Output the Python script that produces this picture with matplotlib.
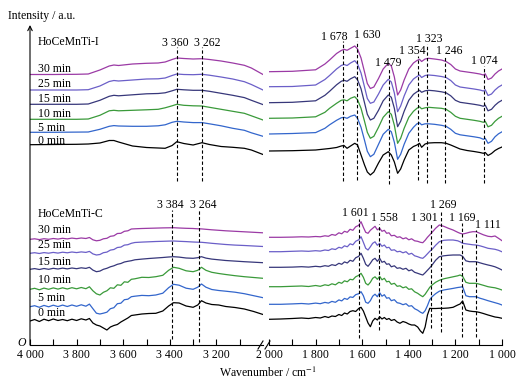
import numpy as np
import matplotlib
matplotlib.use('Agg')
import matplotlib.pyplot as plt
from matplotlib.lines import Line2D

plt.rcParams['font.family'] = ['Liberation Serif', 'DejaVu Serif']
plt.rcParams['mathtext.fontset'] = 'stix'
plt.rcParams['font.size'] = 8.5

# series order: 0, 5, 10, 15, 25, 30 min
times = ['0 min', '5 min', '10 min', '15 min', '25 min', '30 min']
colors = ['#000000', '#3366cc', '#3a9a3a', '#37377a', '#6b5fc8', '#9b3aa5']

# ---- HoCeMnTi-I ----
wn_i_left = [4000, 3900, 3800, 3750, 3700, 3660, 3640, 3620, 3560, 3500, 3450, 3420,
             3390, 3370, 3340, 3300, 3262, 3230, 3180, 3130, 3080, 3050, 3000]
i_left = [
    [0, 0.2, 0.4, 0.7, 1.7, 4.2, 4.2, 2.7, -1.3, -2.8, -3.3, -3.6, -0.8, 3, 1.2, -0.3, 2, 0.2, -1.8, -2.6, -3.6, -5.3, -9.8],
    [0, 0, 0.2, 0.3, 3, 6, 6.7, 6.3, 6, 6, 6.5, 7.5, 10, 11, 10.3, 9.7, 9.7, 8.5, 6.5, 4, 2, -0.5, -4],
    [0, 0, 0, 0.3, 4, 8.5, 9, 8.5, 9, 9.5, 10, 11.5, 13.5, 15, 14, 13.5, 13.3, 12, 10, 8, 6, 3.5, -0.7],
    [0, 0, 0, 0.3, 4, 8, 9, 8.5, 9.5, 10.5, 10.8, 11.5, 13.5, 15, 14.5, 14, 14, 13, 11, 9, 6.7, 4, -0.3],
    [0, 0, 0, 0.3, 4, 8.5, 9.5, 9, 10, 11, 11.2, 12, 14.5, 16, 15.5, 15.3, 15.7, 14.8, 13, 11, 8.3, 5.5, 0],
    [0, 0, 0.2, 0.5, 4.5, 8.5, 9.5, 9, 10.5, 11.2, 11.5, 12.5, 15, 16.5, 16, 15.5, 15.8, 15, 13.5, 11.5, 9.2, 6.5, 0],
]
wn_i_right = [2000, 1900, 1800, 1760, 1740, 1710, 1690, 1678, 1665, 1650, 1632, 1620,
              1605, 1590, 1578, 1565, 1550, 1530, 1510, 1488, 1475, 1462, 1448, 1435,
              1420, 1400, 1380, 1365, 1354, 1345, 1330, 1315, 1290, 1260, 1240, 1220,
              1200, 1180, 1150, 1120, 1095, 1080, 1072, 1060, 1045, 1030, 1015, 1000]
i_right = [
    [-6.3, -6, -5.3, -4.3, -3.8, -2.8, -1.3, -0.8, -3.6, -1.3, 1.4, -0.3, -10.3, -20.3, -27.3, -30.3,
     -27.3, -18.3, -10.3, -7, -10.3, -17.3, -28.6, -24.3, -15.3, -5.3, -1.8, -0.3, 1.4, -2.6, 0.7, 1.7,
     2, 2, 1.4, -0.3, -2.3, -4.3, -5.8, -6.8, -7.8, -8.6, -7.8, -10.8, -8.8, -5.8, -3.8, -2.3],
    [-1.7, -1.2, -0.3, 4, 7.5, 12, 14.5, 15, 14, 16, 17.3, 14, 5, -8, -19, -24.4,
     -22, -12, -2, 3, 0.5, -10, -27, -22, -12, -1, 5, 8.5, 9.5, 7.5, 8.5, 8.5,
     8, 7, 6, 3, -1, -2.5, -3.5, -4.5, -5.5, -7, -6, -11, -9, -4.5, -1.5, 0.5],
    [1, 1.3, 2.5, 7, 11, 16, 19, 19.5, 18.5, 21, 22.6, 19.5, 11, -2, -13, -19,
     -17, -8, 2, 7.6, 5, -6, -24, -19, -9, 2, 8, 11, 12.5, 10.5, 11.5, 12,
     11.5, 11, 10, 7, 3, 1, 0, -1, -2, -3, -2, -7.5, -6, -2, 1, 3],
    [1.6, 2, 3.5, 9, 13, 19.5, 23, 24, 23, 25.5, 27.6, 24.5, 15.5, 1.5, -10, -15.7,
     -14, -6, 3.5, 9.3, 7, -4, -22.4, -17, -7, 4, 10, 12.5, 14, 12, 13.5, 14,
     13.5, 12.5, 11.5, 8.5, 4, 2, 1, 0, -1, -2, -0.8, -6.5, -5, -1, 2, 4],
    [3.3, 3.5, 5, 10.5, 14.5, 21, 24.5, 25.5, 24.5, 27, 29.3, 26, 17, 3, -8.5, -13.3,
     -12, -4, 5, 10.7, 8, -3, -21.7, -16, -6, 5, 11, 13.5, 15, 12.5, 14.5, 15,
     14.5, 13.5, 12.5, 9.5, 5, 3, 2, 1, 0, -1, 0.3, -5.5, -4, 0, 3, 5],
    [2.8, 3.2, 4.7, 10.5, 14.5, 21, 24, 25.2, 24.2, 26.2, 28.5, 25.5, 16.5, 2.5, -9, -14,
     -12.5, -4, 5.5, 11.2, 8.5, -2.5, -20.5, -15.5, -5.5, 5.5, 11.5, 14, 15.2, 13, 15.5, 16.2,
     15.5, 14.5, 13, 10, 5.5, 3.5, 2.5, 1.5, 0.5, -0.5, 0.7, -5, -3.5, 0.5, 3.5, 5.5],
]

# ---- HoCeMnTi-C ----
wn_c_left = [4000, 3980, 3960, 3940, 3920, 3900, 3880, 3860, 3840, 3820, 3800, 3780,
             3760, 3745, 3730, 3715, 3700, 3685, 3670, 3655, 3640, 3625, 3610, 3595,
             3580, 3565, 3550, 3520, 3490, 3460, 3430, 3405, 3384, 3360, 3330, 3300,
             3280, 3264, 3245, 3220, 3190, 3160, 3120, 3080, 3040, 3000]
c_left = [
    [0, 1.5, -0.5, 1.8, 0.3, 2, 0.5, 1.5, 0.3, 1.8, 0.5, 2.2, 1, 2.5, -2, -4, -5, -7, -9, -6, -4.5, -3.5, -1,
     1, 3, 5.5, 6, 7, 7.5, 7.7, 10, 15, 18.3, 18, 15, 13.7, 16, 20.3, 18, 16.5, 16, 14.5, 13.5, 12, 9.5, 6.5],
    [0, 1, -0.6, 1.3, -0.1, 1.5, 0.1, 1.6, 0.2, 1.7, 0.4, 1.9, 0.5, 2.6, -2, -6.5, -7.3, -6.5, -5.5, -2, -1, 3, 3.5,
     7, 7.5, 10, 10.5, 11.3, 11, 11.7, 13.5, 19, 22.4, 21.5, 18.5, 17.4, 19.5, 22.7, 19.5, 17.2, 16.2, 15.5, 14.5, 13, 11, 9],
    [0, 1, -0.5, 1.2, 0, 1.4, 0.2, 1.5, 0.3, 1.6, 0.5, 1.8, 0.6, 2.5, -1.5, -4.5, -5.7, -3, -1.5, 1.5, 1, 4.5, 4,
     7.5, 7, 10, 10.5, 12, 11.8, 12.6, 14, 19, 22, 21, 18.5, 17.6, 19, 22, 19, 17, 15.8, 14.8, 13.6, 12.6, 11.8, 11],
    [0, 0.7, -0.2, 0.8, 0, 1, 0.3, 1.2, 0.4, 1.3, 0.6, 1.5, 0.9, 2, -0.8, -2.4, -1.8, 0, 1, 2.5, 3.5, 5, 5.8,
     7.3, 8, 8.6, 9.5, 10.2, 10.8, 11.3, 11.8, 12.3, 12.6, 12.2, 11.3, 11, 11.6, 12.6, 11.2, 10.2, 9.5, 8.8, 8.2, 7.6, 7.1, 6.6],
    [0, 0.6, -0.2, 0.7, 0.1, 0.9, 0.2, 1.1, 0.5, 1.3, 0.7, 1.4, 0.9, 1.9, -0.6, -1.7, -1.2, 0.6, 1.2, 3.2, 3.8, 5.8, 6.2,
     8.2, 8.6, 10, 10.8, 11.2, 11.5, 11.8, 12, 12.2, 12.3, 12, 11.7, 11.3, 11.1, 11, 10.6, 10, 9.4, 8.8, 8.2, 7.8, 7.3, 6.8],
    [0, 0.5, -0.3, 0.6, 0, 0.8, 0.2, 1, 0.4, 1.2, 0.6, 1.3, 0.8, 1.8, -0.5, -1.5, -1, 0.5, 1, 3, 3.5, 5.8, 6,
     8, 8.5, 10.3, 10.5, 10.8, 11, 11.2, 11.4, 11.5, 11.6, 11.3, 11, 10.8, 10.5, 10.4, 10, 9.5, 9, 8.5, 8, 7.5, 7, 6.5],
]
wn_c_right = [2000, 1950, 1900, 1860, 1830, 1800, 1780, 1760, 1745, 1730, 1715, 1700,
              1688, 1676, 1664, 1652, 1640, 1628, 1615, 1605, 1595, 1585, 1575, 1565,
              1555, 1545, 1535, 1525, 1515, 1505, 1495, 1485, 1475, 1462, 1450, 1438,
              1425, 1412, 1400, 1388, 1375, 1362, 1350, 1340, 1330, 1320, 1310, 1300,
              1285, 1269, 1250, 1230, 1210, 1190, 1180, 1169, 1155, 1140, 1125, 1111,
              1095, 1080, 1060, 1045, 1030, 1015, 1000]
c_right = [
    [1.7, 2, 2.5, 3, 2.5, 3.5, 3, 4.5, 3.5, 5, 4.5, 6.5, 5.5, 8, 7, 9.5, 10.3, 9.5, 12.5, 13.7, 10, 4,
     -2, -5.7, 0, 2.7, 1, 4.3, 2, 3.5, 1.5, 2.5, 0.5, 1.5, -1, -2.3, -0.5, -1.5, -3, -4, -4, -6, -10, -12.3,
     -6, 6, 12.7, 12.5, 12.5, 12.7, 12.7, 13, 13.7, 16, 17, 20, 11, 10, 9.5, 9.3, 8.5, 7.5, 6, 5, 4, 3.5, 2.7],
    [2.4, 2.4, 2.8, 3.2, 2.7, 3.6, 3, 4.3, 3.6, 5.3, 4.4, 6.8, 5.8, 8.3, 7.3, 9.8, 9.3, 12, 13, 15, 11, 4.5,
     3.4, 6, 10.5, 12.5, 10, 14, 10.5, 12, 8.5, 9, 6, 7, 4, 3.4, 2, 3, 0.5, 1, -2, -3.5, -5.5, -6.6,
     -4, 1, 7, 10, 13, 15.5, 16.7, 17.5, 18.3, 19.2, 19.5, 20, 11, 10, 10, 10, 8.5, 7.5, 6, 5, 4, 3, 1.7],
    [2.6, 2.6, 3, 3.3, 2.8, 3.8, 3, 4.5, 3.8, 5.5, 4.5, 7, 6, 8.5, 7.5, 10, 9.5, 12.5, 14, 16, 12, 6,
     4.3, 7, 11, 12.5, 10, 13, 9.5, 11, 7.5, 8, 5, 6, 3, 3.5, 1.5, 2.5, 0, 0.5, -2.5, -4, -6, -7.4,
     -5, -1.5, 2, 4.3, 7, 9, 10.5, 11.5, 12.5, 13.5, 14.3, 13, 7, 6, 6, 6, 5, 4, 2.6, 2, 1.5, 0.5, -0.7],
    [2, 2, 2.2, 2.6, 2.2, 3, 2.5, 3.6, 3, 4.6, 3.8, 6, 5, 7.4, 6.3, 9, 8, 11.5, 13, 16, 11, 5,
     3, 6, 9.5, 11, 8, 11, 7, 8, 5, 5.5, 2.5, 3.5, 1, 1.5, 0, 1, -1.5, -0.5, -3, -4, -5, -5.7,
     -3.5, -1, 1.5, 4.3, 9, 12.6, 13.5, 14, 14.3, 14.3, 14.3, 13, 8.5, 7.6, 7.6, 7.6, 6.5, 5.5, 4.3, 3.5, 2.5, 1, -0.7],
    [1.6, 1.6, 2, 2.3, 2, 2.6, 2.2, 3.3, 2.8, 4.5, 3.8, 6, 5.2, 7.5, 6.5, 9.5, 8.5, 12, 13.5, 16.6, 11, 5,
     3.3, 6.5, 10, 11.5, 8, 10, 7, 8.3, 5.5, 6, 3, 3.5, 1.5, 2, 0.5, 1.6, -1, 0, -2.5, -3.4, -4.5, -5,
     -3, -0.5, 2, 4, 8, 11.6, 13, 13.3, 13.3, 12.5, 11.5, 10, 9.5, 9, 8.5, 8.3, 7.5, 6.5, 5, 4.5, 4, 3, 1.5],
    [2, 2, 2.2, 2.5, 2.3, 2.8, 2.5, 3.5, 3, 4.8, 4, 6.5, 5.5, 8, 7, 10, 9, 12.5, 14, 17.6, 12, 7,
     6, 9, 11, 13, 9.5, 11, 8, 9, 6, 6.5, 3.5, 4, 2, 2.5, 0.5, 1.5, -0.5, 0.5, -1.5, -2, -3, -3.4,
     -1, 2, 4.5, 7, 11, 14.3, 13, 11, 9.3, 7, 6, 5.3, 6, 7, 7.6, 7.6, 6, 4.5, 3, 2.6, 3.3, 1, -1.4],
]

# stacking offsets and label heights
offset_i = [200.3, 212.7, 225.7, 240.7, 255, 270.5]
offset_c = [24, 38.3, 55.7, 75.7, 91.7, 105.7]
tl_y_i = [201, 214.3, 228.3, 243.3, 257.7, 273.3]
tl_y_c = [29, 44, 62, 80, 96.7, 112.3]

# marked bands: line position, line span, label text, label position
peaks_i = [
    (3368, 164, 298, '3 360', 3378, 302),
    (3263, 164, 298, '3 262', 3238, 302),
    (1681, 164, 304, '1 678', 1721, 308),
    (1623, 165, 304, '1 630', 1579, 310),
    (1485, 161, 277, '1 479', 1488, 282),
    (1362, 165, 289, '1 354', 1386, 294),
    (1320, 162, 301, '1 323', 1313, 306),
    (1243, 162, 289, '1 246', 1227, 294),
    (1079, 162, 279, '1 074', 1075, 284),
]
peaks_c = [
    (3389, 6, 135, '3 384', 3399, 140),
    (3273, 3, 135, '3 264', 3258, 140),
    (1614, 7, 126, '1 601', 1629, 131.7),
    (1530, 15, 121, '1 558', 1504, 126.7),
    (1306, 17, 121, '1 301', 1335, 126.7),
    (1262, 13, 134, '1 269', 1253, 140),
    (1172, 8, 122, '1 169', 1170, 127.3),
    (1112, 8, 115, '1 111', 1062, 120),
]

W, H = 526, 388
fig = plt.figure(figsize=(W / 100, H / 100), dpi=100)


def box(x0, x1):
    return [x0 / W, (H - 345) / H, (x1 - x0) / W, 320 / H]


axl = fig.add_axes(box(30, 263))
axr = fig.add_axes(box(269, 502))
for ax, lim in ((axl, (4000, 3000)), (axr, (2000, 1000))):
    ax.set_xlim(*lim)
    ax.set_ylim(0, 320)
    ax.patch.set_alpha(0)
    for s in ('top', 'right', 'left'):
        ax.spines[s].set_visible(False)
    ax.spines['bottom'].set_linewidth(0.8)
    ax.set_yticks([])
    ax.tick_params(axis='x', which='both', direction='in', length=4, width=0.8,
                   pad=3, labelsize=8.5)

axl.set_xticks([4000, 3800, 3600, 3400, 3200])
axl.set_xticks([3900, 3700, 3500, 3300, 3100], minor=True)
axr.set_xticks([2000, 1800, 1600, 1400, 1200, 1000])
axr.set_xticks([1900, 1700, 1500, 1300, 1100], minor=True)
for ax in (axl, axr):
    ax.set_xticklabels([f'{int(v):,}'.replace(',', ' ') for v in ax.get_xticks()])

for k in range(6):
    axl.plot(wn_i_left, np.array(i_left[k]) + offset_i[k], color=colors[k], lw=0.9)
    axr.plot(wn_i_right, np.array(i_right[k]) + offset_i[k], color=colors[k], lw=0.9)
    axl.plot(wn_c_left, np.array(c_left[k]) + offset_c[k], color=colors[k], lw=0.9)
    axr.plot(wn_c_right, np.array(c_right[k]) + offset_c[k], color=colors[k], lw=0.9)
    axl.text(3966, tl_y_i[k], times[k], va='baseline', ha='left')
    axl.text(3966, tl_y_c[k], times[k], va='baseline', ha='left')

axl.text(3966, 300, 'HoCeMnTi-I', va='baseline', ha='left')
axl.text(3966, 128, 'HoCeMnTi-C', va='baseline', ha='left')

for pk in peaks_i + peaks_c:
    x, y0, y1, lab, lx, ly = pk
    ax = axl if x > 2500 else axr
    ax.plot([x, x], [y0, y1], color='black', lw=0.8, ls=(0, (3, 2)))
    ax.text(lx, ly, lab, ha='center', va='center')

# y axis arrow
axl.annotate('', xy=(0, 1.0), xytext=(0, 0), xycoords='axes fraction',
             arrowprops=dict(arrowstyle='->', lw=0.8, color='black',
                             shrinkA=0, shrinkB=0, mutation_scale=8))

# axis break marks
for x0 in (258, 265):
    fig.add_artist(Line2D([x0 / W, (x0 + 5) / W], [1 - 349 / H, 1 - 341 / H],
                          color='black', lw=0.8))

fig.text(8 / W, 1 - 15.5 / H, 'Intensity / a.u.', ha='left', va='center')
fig.text(268 / W, 1 - 373 / H, 'Wavenumber / cm$^{-1}$', ha='center', va='center')
fig.text(22 / W, 1 - 343 / H, 'O', style='italic', ha='center', va='center')

fig.savefig('out.png', dpi=100)
